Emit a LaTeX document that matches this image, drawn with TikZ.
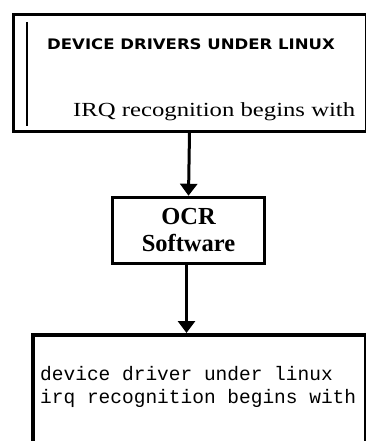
\documentclass[tikz,border=0pt]{standalone}
\usepackage{fontspec}
\setmainfont{Liberation Serif}
\newfontfamily\capsfont{DejaVu Sans}
\newfontfamily\monofont{Liberation Mono}
\usetikzlibrary{arrows.meta,calc}
\begin{document}
\begin{tikzpicture}[x=1pt,y=-1pt,
  boxline/.style={draw=black,line width=3.5pt,fill=white,inner sep=0pt},
  conn/.style={line width=3pt,-{Triangle[width=17pt,length=12pt]}}]
\clip (0,0) rectangle (366,441);
\fill[white] (0,0) rectangle (366,441);
% top box
\node[boxline,line width=3pt,minimum width=353pt,minimum height=116pt,anchor=north west] (top) at (11.5,13.5) {};
\draw[line width=1.6pt] (27,22) -- (27,126);
\node[anchor=west,inner sep=0pt,font=\capsfont\bfseries\fontsize{14.5}{16}\selectfont] (title) at (47,44) {\scalebox{1.14}[1]{DEVICE DRIVERS UNDER LINUX}};
\node[anchor=west,inner sep=0pt,font=\fontsize{20}{22}\selectfont] (irq) at (73,112) {\scalebox{1.235}[1]{IRQ recognition begins with}};
% OCR box
\node[boxline,minimum width=152pt,minimum height=66pt,align=center,font=\bfseries\fontsize{24.5}{27}\selectfont] (ocr) at (188.5,230.5) {OCR\\Software};
% bottom box
\node[boxline,line width=4pt,minimum width=333pt,minimum height=140pt,anchor=north west] (bottom) at (31,333) {};
\node[anchor=north west,inner sep=0pt,align=left,font=\monofont\fontsize{19.5}{23}\selectfont] (out) at (40,366) {device driver under linux\\irq recognition begins with};
% connectors
\draw[conn] (top.south) -- (ocr.north);
\draw[conn] ($(ocr.south)+(-2,0)$) -- ($(ocr.south |- bottom.north)+(-2,0)$);
\end{tikzpicture}
\end{document}
